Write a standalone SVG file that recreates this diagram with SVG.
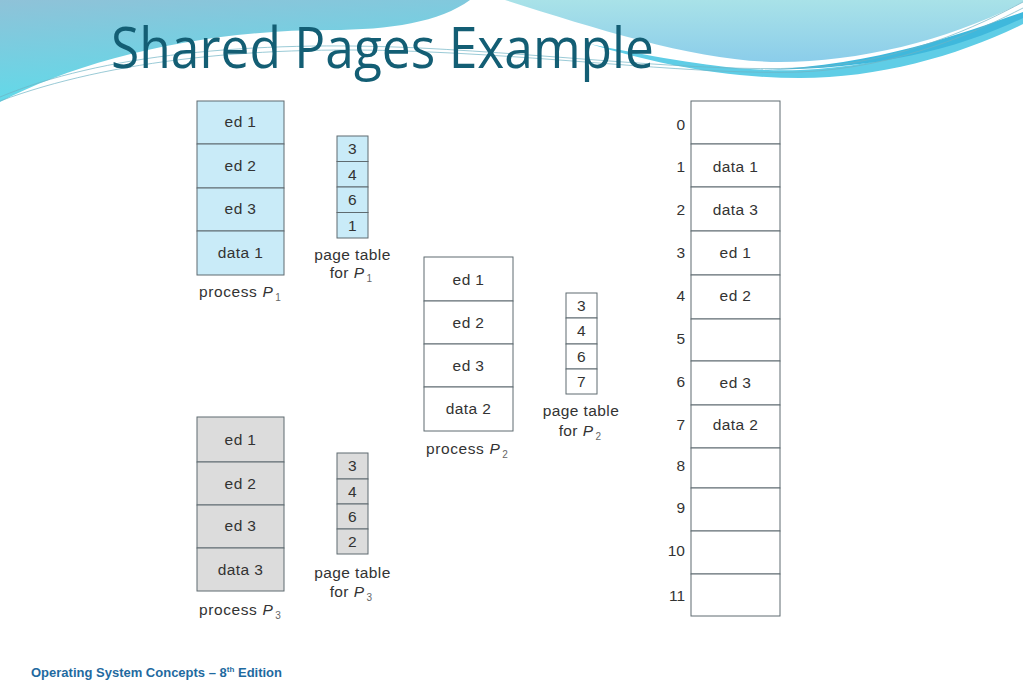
<svg xmlns="http://www.w3.org/2000/svg" width="1023" height="682" viewBox="0 0 1023 682">
<defs>
<linearGradient id="gLeft" x1="0" y1="0" x2="0.3" y2="1">
<stop offset="0" stop-color="#8fc2d8"/>
<stop offset="1" stop-color="#5edbea"/>
</linearGradient>
<linearGradient id="gRight" x1="0" y1="0" x2="0" y2="1">
<stop offset="0" stop-color="#a9e2e8"/>
<stop offset="1" stop-color="#8bcdea"/>
</linearGradient>
<style>
.cell{stroke:#5f6b70;stroke-width:1}
.blue{fill:#c9ebf8}
.gray{fill:#dcdcdc}
.white{fill:#ffffff}
.t{font-family:"Liberation Sans",Arial,sans-serif;font-size:15.5px;letter-spacing:0.4px;fill:#333333;text-anchor:middle}
.n{font-family:"Liberation Sans",Arial,sans-serif;font-size:15.5px;fill:#333333;text-anchor:end}
.l{font-family:"Liberation Sans",Arial,sans-serif;font-size:15.5px;letter-spacing:0.6px;fill:#333333}
.sub{font-size:10px;fill:#666666}
.thin{fill:none;stroke:#6fb3c4;stroke-width:0.7}
</style>
</defs>
<rect width="1023" height="682" fill="#ffffff"/>
<g id="header">
<path d="M0,0 H470 C440,22 390,30 330,30 C200,30 80,60 0,102 Z" fill="url(#gLeft)"/>
<path d="M505,0 H1023 V2 C950,40 860,62 780,62 C700,62 600,30 505,0 Z" fill="url(#gRight)"/>
<path d="M590,44 C680,62 740,72 800,70 C900,66 980,30 1023,14 V24 C960,55 880,78 800,78 C720,78 650,62 590,44 Z" fill="#5fcde6"/>
<path d="M760,70 C880,66 970,30 1023,12 V18 C960,48 880,70 760,70 Z" fill="#3fb8dc"/>
<path class="thin" d="M0,97 C100,55 250,40 420,48 C560,55 700,72 800,68 C900,64 980,25 1023,2"/>
<path class="thin" d="M0,101 C110,60 260,44 430,52 C570,58 700,75 800,72 C900,68 980,30 1023,8"/>
<text x="111" y="68" font-family="'Open Sans','Noto Sans',sans-serif" font-size="56" fill="#135e74" textLength="543" lengthAdjust="spacingAndGlyphs">Shared Pages Example</text>
</g>
<g id="process-P1">
<rect class="cell blue" x="197" y="101" width="87" height="43"/>
<rect class="cell blue" x="197" y="144" width="87" height="44"/>
<rect class="cell blue" x="197" y="188" width="87" height="43"/>
<rect class="cell blue" x="197" y="231" width="87" height="44"/>
<text class="t" x="240.5" y="127">ed 1</text>
<text class="t" x="240.5" y="171">ed 2</text>
<text class="t" x="240.5" y="214">ed 3</text>
<text class="t" x="240.5" y="258">data 1</text>
<text class="l" x="199" y="297">process <tspan font-style="italic">P</tspan><tspan class="sub" dx="2" dy="4">1</tspan></text>
</g>
<g id="pagetable-P1">
<rect class="cell blue" x="337" y="136" width="31" height="25.5"/>
<rect class="cell blue" x="337" y="161.5" width="31" height="25.5"/>
<rect class="cell blue" x="337" y="187" width="31" height="25.5"/>
<rect class="cell blue" x="337" y="212.5" width="31" height="25.5"/>
<text class="t" x="352.5" y="154">3</text>
<text class="t" x="352.5" y="179.5">4</text>
<text class="t" x="352.5" y="205">6</text>
<text class="t" x="352.5" y="230.5">1</text>
<text class="t" x="352.5" y="260">page table</text>
<text class="t" x="351" y="278">for <tspan font-style="italic">P</tspan><tspan class="sub" dx="2" dy="4">1</tspan></text>
</g>
<g id="process-P2">
<rect class="cell white" x="424" y="257" width="89" height="44"/>
<rect class="cell white" x="424" y="301" width="89" height="43"/>
<rect class="cell white" x="424" y="344" width="89" height="43"/>
<rect class="cell white" x="424" y="387" width="89" height="44"/>
<text class="t" x="468.5" y="285">ed 1</text>
<text class="t" x="468.5" y="328">ed 2</text>
<text class="t" x="468.5" y="371">ed 3</text>
<text class="t" x="468.5" y="414">data 2</text>
<text class="l" x="426" y="454">process <tspan font-style="italic">P</tspan><tspan class="sub" dx="2" dy="4">2</tspan></text>
</g>
<g id="pagetable-P2">
<rect class="cell white" x="566" y="293" width="31" height="25"/>
<rect class="cell white" x="566" y="318" width="31" height="26"/>
<rect class="cell white" x="566" y="344" width="31" height="25"/>
<rect class="cell white" x="566" y="369" width="31" height="25"/>
<text class="t" x="581.5" y="311">3</text>
<text class="t" x="581.5" y="336">4</text>
<text class="t" x="581.5" y="362">6</text>
<text class="t" x="581.5" y="387">7</text>
<text class="t" x="581" y="416">page table</text>
<text class="t" x="580" y="436">for <tspan font-style="italic">P</tspan><tspan class="sub" dx="2" dy="4">2</tspan></text>
</g>
<g id="process-P3">
<rect class="cell gray" x="197" y="417" width="87" height="45"/>
<rect class="cell gray" x="197" y="462" width="87" height="43"/>
<rect class="cell gray" x="197" y="505" width="87" height="43"/>
<rect class="cell gray" x="197" y="548" width="87" height="43"/>
<text class="t" x="240.5" y="445">ed 1</text>
<text class="t" x="240.5" y="489">ed 2</text>
<text class="t" x="240.5" y="531">ed 3</text>
<text class="t" x="240.5" y="575">data 3</text>
<text class="l" x="199" y="615">process <tspan font-style="italic">P</tspan><tspan class="sub" dx="2" dy="4">3</tspan></text>
</g>
<g id="pagetable-P3">
<rect class="cell gray" x="337" y="453" width="31" height="26"/>
<rect class="cell gray" x="337" y="479" width="31" height="25"/>
<rect class="cell gray" x="337" y="504" width="31" height="25"/>
<rect class="cell gray" x="337" y="529" width="31" height="25"/>
<text class="t" x="352.5" y="471">3</text>
<text class="t" x="352.5" y="497">4</text>
<text class="t" x="352.5" y="522">6</text>
<text class="t" x="352.5" y="547">2</text>
<text class="t" x="352.5" y="578">page table</text>
<text class="t" x="351" y="597">for <tspan font-style="italic">P</tspan><tspan class="sub" dx="2" dy="4">3</tspan></text>
</g>
<g id="physical-memory">
<rect class="cell white" x="691" y="101" width="89" height="43"/>
<rect class="cell white" x="691" y="144" width="89" height="43"/>
<rect class="cell white" x="691" y="187" width="89" height="44"/>
<rect class="cell white" x="691" y="231" width="89" height="44"/>
<rect class="cell white" x="691" y="275" width="89" height="44"/>
<rect class="cell white" x="691" y="319" width="89" height="42"/>
<rect class="cell white" x="691" y="361" width="89" height="44"/>
<rect class="cell white" x="691" y="405" width="89" height="43"/>
<rect class="cell white" x="691" y="448" width="89" height="40"/>
<rect class="cell white" x="691" y="488" width="89" height="43"/>
<rect class="cell white" x="691" y="531" width="89" height="43"/>
<rect class="cell white" x="691" y="574" width="89" height="42"/>
<text class="n" x="685" y="130">0</text>
<text class="n" x="685" y="172">1</text>
<text class="n" x="685" y="215">2</text>
<text class="n" x="685" y="258">3</text>
<text class="n" x="685" y="301">4</text>
<text class="n" x="685" y="344">5</text>
<text class="n" x="685" y="387">6</text>
<text class="n" x="685" y="430">7</text>
<text class="n" x="685" y="471">8</text>
<text class="n" x="685" y="513">9</text>
<text class="n" x="685" y="556">10</text>
<text class="n" x="685" y="601">11</text>
<text class="t" x="735.5" y="172">data 1</text>
<text class="t" x="735.5" y="215">data 3</text>
<text class="t" x="735.5" y="258">ed 1</text>
<text class="t" x="735.5" y="301">ed 2</text>
<text class="t" x="735.5" y="388">ed 3</text>
<text class="t" x="735.5" y="430">data 2</text>
</g>
<g id="connectors"></g>
<g id="footer">
<text x="31" y="677" font-family="'Liberation Sans',Arial,sans-serif" font-size="13" font-weight="bold" fill="#1f6aa0">Operating System Concepts – 8<tspan font-size="8" dy="-5">th</tspan><tspan dy="5"> Edition</tspan></text>
</g>
</svg>
